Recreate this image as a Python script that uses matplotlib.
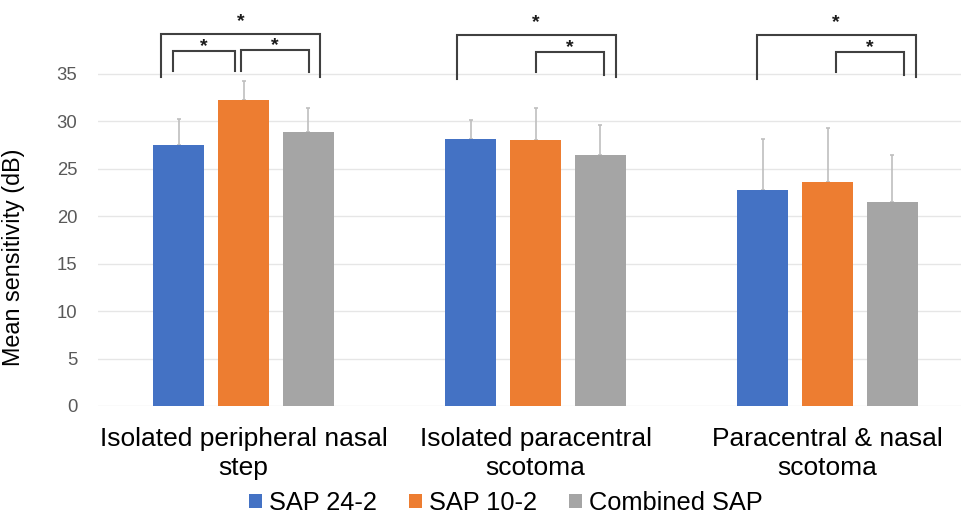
import matplotlib.pyplot as plt
import numpy as np

plt.rcParams['font.family'] = ['Liberation Sans', 'DejaVu Sans']

# Data
groups = ["Isolated peripheral nasal\nstep", "Isolated paracentral\nscotoma",
          "Paracentral & nasal\nscotoma"]
series = ["SAP 24-2", "SAP 10-2", "Combined SAP"]
colors = ["#4472C4", "#ED7D31", "#A5A5A5"]
means = [
    [27.5, 28.1, 22.8],   # SAP 24-2
    [32.3, 28.0, 23.6],   # SAP 10-2
    [28.9, 26.5, 21.5],   # Combined SAP
]
sds = [
    [2.8, 2.0, 5.3],
    [2.0, 3.4, 5.7],
    [2.5, 3.1, 5.0],
]

# significance brackets: (group, x0 offset, x1 offset, top, left leg end, right leg end)
brackets = [
    (0, -0.282, 0.262, 39.25, 34.7, 34.7),
    (0, -0.241, -0.029, 37.4, 35.35, 35.3),
    (0, -0.009, 0.224, 37.5, 35.35, 35.2),
    (1, -0.270, 0.275, 39.1, 34.5, 34.7),
    (1, 0.002, 0.235, 37.3, 35.2, 34.9),
    (2, -0.242, 0.302, 39.1, 34.5, 34.7),
    (2, 0.029, 0.262, 37.3, 35.2, 34.9),
]

W, H = 961, 515
fig = plt.figure(figsize=(W / 100, H / 100), dpi=100)
ax = fig.add_axes([97.5 / W, 109 / H, 876 / W, 406 / H])

x = np.arange(len(groups))
bar_w = 0.176
step = 0.222
for i, name in enumerate(series):
    pos = x + (i - 1) * step
    ax.bar(pos, means[i], bar_w, color=colors[i], label=name, zorder=3)
    ax.errorbar(pos, means[i], yerr=[np.zeros(3), sds[i]], fmt='none',
                ecolor='#BFBFBF', elinewidth=1.2, capsize=1.5, capthick=1.2, zorder=2)

for g, a, b, top, l_end, r_end in brackets:
    xa, xb = g + a, g + b
    ax.plot([xa, xa, xb, xb], [l_end, top, top, r_end], color='#404040',
            lw=1.5, solid_joinstyle='miter', clip_on=False, zorder=4)
    big = top > 38.5
    ax.text((xa + xb) / 2, top + (1.3 if big else 0.5), "*", ha='center', va='center',
            fontsize=14, fontweight='bold', color='#1a1a1a', clip_on=False)

ax.set_xlim(-0.5, 2.5)
ax.set_ylim(0, 406 / 9.486)
ax.set_yticks(range(0, 36, 5))
ax.grid(axis='y', color='#E6E6E6', lw=1, zorder=0)
ax.tick_params(axis='y', length=0, labelsize=13.3, labelcolor='#595959', pad=14.5)
ax.tick_params(axis='x', length=0, labelsize=19, pad=15)
ax.set_xticks(x)
ax.set_xticklabels(groups, linespacing=1.25)
for s in ax.spines.values():
    s.set_visible(False)

ax.set_ylabel("Mean sensitivity (dB)", fontsize=16.8)
ax.yaxis.set_label_coords(-72.5 / 876, 149 / 406)

fig.legend(loc='center', bbox_to_anchor=(506 / W, 1 - 503 / H), ncol=3, frameon=False,
           fontsize=18.3, handlelength=0.5, handleheight=0.5, handletextpad=0.3,
           columnspacing=1.25, borderaxespad=0, borderpad=0)

fig.savefig("out.png", dpi=100)
